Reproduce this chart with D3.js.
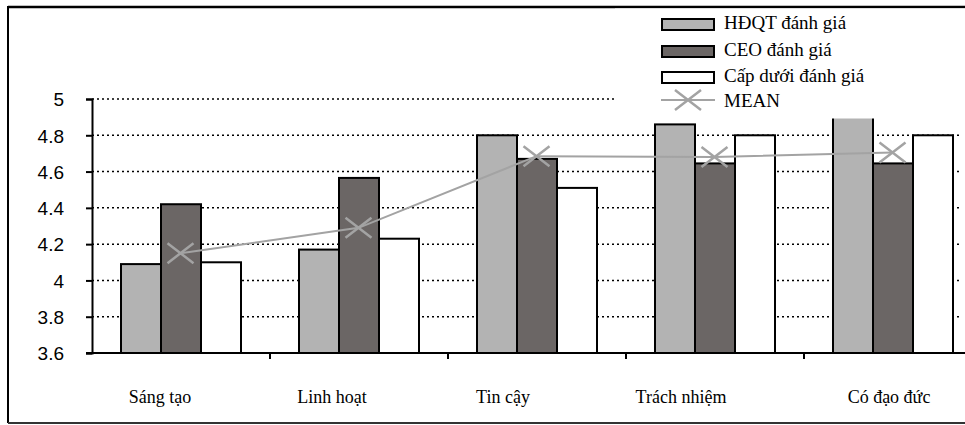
<!DOCTYPE html>
<html>
<head>
<meta charset="utf-8">
<script src="https://cdn.jsdelivr.net/npm/d3@7"></script>
<style>
  body { margin: 0; background: #fff; }
  svg { display: block; }
</style>
</head>
<body>
<div id="chart"></div>
<script>
// values
const categories = ['Sáng tạo', 'Linh hoạt', 'Tin cậy', 'Trách nhiệm', 'Có đạo đức'];
const hdqt = [4.09, 4.17, 4.80, 4.86, 4.93];
const ceo = [4.42, 4.565, 4.67, 4.645, 4.645];
const capDuoi = [4.10, 4.23, 4.51, 4.80, 4.80];
const mean = [4.15, 4.29, 4.685, 4.68, 4.705];
const yTicks = [3.6, 3.8, 4, 4.2, 4.4, 4.6, 4.8, 5];
const seriesNames = ['HĐQT đánh giá', 'CEO đánh giá', 'Cấp dưới đánh giá'];
const meanName = 'MEAN';

const colors = ['#b3b3b3', '#6b6665', '#ffffff'];
const meanColor = '#a3a3a3';

const width = 965, height = 425;
const plot = {left: 92, right: 982, top: 99, bottom: 353};

const svg = d3.select('#chart').append('svg')
    .attr('width', width)
    .attr('height', height);

// outer frame
svg.append('line').attr('x1', 8).attr('x2', width).attr('y1', 7).attr('y2', 7)
    .attr('stroke', '#000').attr('stroke-width', 2.5);
svg.append('line').attr('x1', 8).attr('x2', 8).attr('y1', 6).attr('y2', 423)
    .attr('stroke', '#000').attr('stroke-width', 2);
svg.append('line').attr('x1', 8).attr('x2', width).attr('y1', 423).attr('y2', 423)
    .attr('stroke', '#333').attr('stroke-width', 2);

let x0 = d3.scaleBand()
    .domain(categories)
    .range([plot.left, plot.right]);

let x1 = d3.scaleBand()
    .domain([0, 1, 2])
    .range([29, 149]);

let y = d3.scaleLinear()
    .domain([3.6, 5])
    .range([plot.bottom, plot.top]);

// dotted grid
svg.append('g').selectAll('line').data(yTicks.slice(1)).enter().append('line')
    .attr('x1', plot.left).attr('x2', 962)
    .attr('y1', d => y(d)).attr('y2', d => y(d))
    .attr('stroke', '#000').attr('stroke-width', 1.5)
    .attr('stroke-dasharray', '2,3');

// bars
let rows = categories.map((c, i) => ({cat: c, vals: [hdqt[i], ceo[i], capDuoi[i]]}));
let groups = svg.append('g').selectAll('g').data(rows).enter().append('g')
    .attr('transform', d => `translate(${x0(d.cat)},0)`);
groups.selectAll('rect').data(d => d.vals).enter().append('rect')
    .attr('x', (d, j) => x1(j))
    .attr('y', d => y(d))
    .attr('width', x1.bandwidth())
    .attr('height', d => y(3.6) - y(d))
    .attr('fill', (d, j) => colors[j])
    .attr('stroke', '#000')
    .attr('stroke-width', 2);

// mean line with x markers
let meanX = (d, i) => x0(categories[i]) + x0.bandwidth() / 2 - 0.5;
svg.append('path')
    .datum(mean)
    .attr('fill', 'none')
    .attr('stroke', meanColor)
    .attr('stroke-width', 2)
    .attr('d', d3.line().x(meanX).y(d => y(d)));

function cross(g, cx, cy) {
    g.append('path')
        .attr('d', `M${cx - 13},${cy - 10}L${cx + 13},${cy + 10}M${cx - 13},${cy + 10}L${cx + 13},${cy - 10}`)
        .attr('stroke', meanColor)
        .attr('stroke-width', 2.5)
        .attr('fill', 'none');
}
let marks = svg.append('g');
mean.forEach((d, i) => cross(marks, meanX(d, i), y(d)));

// axes
let yAxis = svg.append('g')
    .attr('transform', `translate(${plot.left},0)`)
    .call(d3.axisLeft(y).tickValues(yTicks).tickSize(6).tickFormat(d3.format('')));
yAxis.select('.domain').attr('stroke', '#000').attr('stroke-width', 2);
yAxis.selectAll('.tick line').attr('stroke-width', 2);
yAxis.selectAll('.tick text')
    .attr('x', -28)
    .attr('dy', '0.36em')
    .style('font-family', '"Liberation Sans", Arial, sans-serif')
    .style('font-size', '19px')
    .attr('fill', '#000');

let xAxis = svg.append('g');
xAxis.append('line')
    .attr('x1', plot.left - 6).attr('x2', plot.right)
    .attr('y1', plot.bottom).attr('y2', plot.bottom)
    .attr('stroke', '#000').attr('stroke-width', 2);
xAxis.selectAll('.sep').data(categories.slice(1)).enter().append('line')
    .attr('x1', d => x0(d)).attr('x2', d => x0(d))
    .attr('y1', plot.bottom).attr('y2', plot.bottom + 6)
    .attr('stroke', '#000').attr('stroke-width', 2);

// labels sit a little off the band centres in the original
const labelNudge = [-21, -27, -34, -34, -4];
xAxis.selectAll('.lab').data(categories).enter().append('text')
    .attr('x', (d, i) => x0(d) + x0.bandwidth() / 2 + labelNudge[i])
    .attr('y', 403)
    .attr('text-anchor', 'middle')
    .style('font-family', '"Liberation Serif", "Times New Roman", serif')
    .style('font-size', '18px')
    .text(d => d);

// legend, white box over the plot
let legend = svg.append('g');
legend.append('rect')
    .attr('x', 615).attr('y', 8.5).attr('width', width - 615).attr('height', 110)
    .attr('fill', '#fff');
let rowsY = [24.5, 51.5, 77.5, 100];
seriesNames.forEach((name, j) => {
    legend.append('rect')
        .attr('x', 662).attr('y', rowsY[j] - 5.5)
        .attr('width', 52).attr('height', 11)
        .attr('fill', colors[j]).attr('stroke', '#000').attr('stroke-width', 2);
    legend.append('text')
        .attr('x', 724).attr('y', rowsY[j] + 3)
        .attr('dy', '0.1em')
        .style('font-family', '"Liberation Serif", "Times New Roman", serif')
        .style('font-size', '19px')
        .text(name);
});
legend.append('line')
    .attr('x1', 661).attr('x2', 715).attr('y1', rowsY[3]).attr('y2', rowsY[3])
    .attr('stroke', meanColor).attr('stroke-width', 2);
cross(legend, 688, rowsY[3]);
legend.append('text')
    .attr('x', 724).attr('y', rowsY[3] + 7)
    .style('font-family', '"Liberation Serif", "Times New Roman", serif')
    .style('font-size', '19px')
    .text(meanName);
</script>
</body>
</html>
